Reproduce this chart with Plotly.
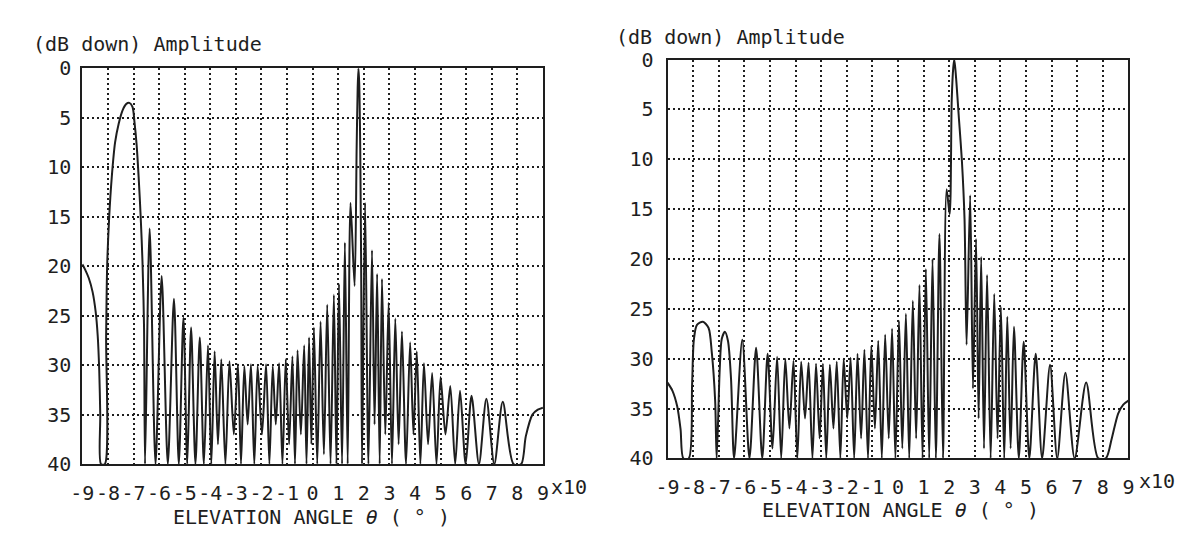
import plotly.graph_objects as go

# ---------------- data (theta in units of 10 degrees, level in dB down) ----------------
left_theta = [
    -9.00, -8.90, -8.75, -8.60, -8.48, -8.40, -8.34, -8.30, -8.27,
    -8.12, -8.07, -8.03, -7.95, -7.85, -7.72, -7.58, -7.42, -7.28, -7.16,
    -7.04, -6.96, -6.88, -6.80, -6.72, -6.65, -6.59, -6.55,
    -6.37, -6.14, -5.90, -5.66, -5.42, -5.23, -5.05, -4.90, -4.75, -4.58,
    -4.41, -4.25, -4.09, -3.96, -3.83, -3.70, -3.57, -3.41, -3.25, -3.08,
    -2.92, -2.80, -2.67, -2.54, -2.41, -2.28, -2.15, -1.98, -1.82, -1.69,
    -1.56, -1.44, -1.31, -1.18, -1.05, -0.92, -0.79, -0.69, -0.59, -0.46,
    -0.33, -0.24, -0.14, -0.05, 0.05, 0.18, 0.31, 0.44, 0.57, 0.70,
    0.83, 0.93, 1.03, 1.15, 1.26, 1.37, 1.48, 1.64,
    1.72, 1.76, 1.79, 1.82, 1.86, 1.90, 1.93,
    2.05, 2.18, 2.32, 2.42, 2.52, 2.62, 2.71, 2.84, 2.97, 3.10,
    3.23, 3.36, 3.49, 3.65, 3.81, 3.94, 4.07, 4.21, 4.35, 4.51,
    4.67, 4.84, 5.00, 5.19, 5.38, 5.57, 5.76, 5.98, 6.21, 6.50,
    6.79, 7.10, 7.43, 7.85,
    8.15, 8.33, 8.59, 8.80, 9.00,
]
left_db = [
    19.8, 20.3, 21.2, 22.6, 24.6, 27.0, 30.5, 35.0, 40,
    40, 27.0, 20.0, 15.0, 11.0, 7.5, 5.6, 4.2, 3.6, 3.5,
    3.9, 5.5, 7.7, 11.0, 15.0, 19.5, 26.0, 40,
    16.2, 40, 21.0, 40, 23.3, 40, 25.2, 40, 26.2, 40,
    27.2, 40, 28.0, 40, 28.6, 38, 29.4, 40, 29.6, 37,
    29.9, 40, 30.1, 36, 29.9, 40, 30.1, 37, 29.9, 40,
    30.1, 36, 29.8, 40, 29.4, 38, 29.1, 40, 28.5, 37,
    28.0, 40, 27.2, 38, 26.2, 40, 25.6, 39, 23.9, 40,
    22.9, 40, 21.8, 40, 17.6, 40, 13.6, 22.0,
    8.0, 2.0, 0.0, 1.5, 8.0, 22.0, 40,
    13.6, 40, 18.4, 36, 20.8, 40, 21.3, 37, 23.7, 40,
    25.3, 38, 26.6, 40, 27.7, 37, 28.6, 40, 29.8, 38,
    30.8, 40, 31.2, 37, 32.1, 40, 32.6, 40, 33.1, 40,
    33.4, 40, 33.7, 40,
    40, 37.2, 35.0, 34.5, 34.3,
]

right_theta = [
    -9.00, -8.81, -8.62, -8.49, -8.38,
    -8.17, -8.04, -7.97, -7.85, -7.62, -7.40, -7.27, -7.14, -7.08,
    -6.96, -6.88, -6.76, -6.64, -6.52, -6.40,
    -6.08, -5.80, -5.54, -5.30, -5.09, -4.90, -4.72, -4.56, -4.40, -4.24,
    -4.08, -3.93, -3.78, -3.63, -3.49, -3.34, -3.20, -3.06, -2.93, -2.80,
    -2.66, -2.52, -2.39, -2.25, -2.12, -1.98, -1.85, -1.71, -1.58, -1.44,
    -1.31, -1.17, -1.04, -0.90, -0.77, -0.63, -0.50, -0.36, -0.23, -0.10,
    0.04, 0.17, 0.31, 0.44, 0.58, 0.71, 0.84, 0.96, 1.09, 1.22,
    1.35, 1.48, 1.62, 1.76, 1.90, 2.02,
    2.10, 2.16, 2.20, 2.26, 2.37, 2.50, 2.60, 2.68,
    2.82, 2.93, 3.05, 3.15, 3.25, 3.36, 3.48, 3.62, 3.76, 3.89,
    4.02, 4.15, 4.27, 4.40, 4.53, 4.72, 4.91, 5.13, 5.38, 5.63,
    5.94, 6.22, 6.54, 6.90, 7.35, 7.82,
    8.12, 8.35, 8.60, 8.80, 9.00,
]
right_db = [
    32.4, 33.2, 34.8, 37.1, 40,
    40, 32.6, 28.1, 26.6, 26.3, 26.9, 29.4, 34.2, 40,
    31.0, 28.0, 27.3, 28.2, 32.0, 40,
    28.1, 40, 28.9, 40, 29.5, 39, 29.8, 40, 30.0, 37,
    30.2, 40, 30.3, 36, 30.4, 40, 30.5, 38, 30.5, 40,
    30.6, 37, 30.3, 40, 30.0, 36, 29.9, 40, 29.5, 38,
    29.1, 40, 28.7, 37, 28.2, 40, 27.6, 38, 27.0, 40,
    26.2, 39, 25.5, 40, 24.2, 38, 22.6, 40, 21.0, 40,
    20.0, 40, 17.5, 40, 13.0, 15.5,
    4.0, 0.8, 0.0, 1.5, 5.5, 10.3, 16.0, 28.6,
    13.6, 33, 18.0, 36, 19.8, 39, 21.6, 40, 23.5, 38,
    24.8, 40, 25.8, 39, 26.8, 40, 28.3, 40, 29.5, 40,
    30.6, 40, 31.4, 40, 32.4, 40,
    40, 38.0, 35.5, 34.6, 34.2,
]

x_tick_vals = [-9, -8, -7, -6, -5, -4, -3, -2, -1, 0, 1, 2, 3, 4, 5, 6, 7, 8, 9]
x_tick_text = ["-9", "-8", "-7", "-6", "-5", "-4", "-3", "-2", "-1", "0",
               "1", "2", "3", "4", "5", "6", "7", "8", "9"]
y_tick_vals = [0, 5, 10, 15, 20, 25, 30, 35, 40]
y_tick_text = ["0", "5", "10", "15", "20", "25", "30", "35", "40"]

y_title = "(dB down) Amplitude"
x_title = "ELEVATION ANGLE <i>θ</i> ( ° )"
x_unit = "x10"

assert len(left_theta) == len(left_db)
assert len(right_theta) == len(right_db)

# ---------------- layout helpers ----------------
W, H = 1185, 534
FONT = "DejaVu Sans Mono"
INK = "#1e1e1e"
FS = 20


def fx(px):
    return px / W


def fy(py):
    return 1 - py / H


fig = go.Figure()
line_style = dict(color=INK, width=2.0, shape="spline", smoothing=0.8)
fig.add_trace(go.Scatter(x=left_theta, y=left_db, mode="lines", line=line_style,
                         xaxis="x", yaxis="y", showlegend=False, hoverinfo="skip"))
fig.add_trace(go.Scatter(x=right_theta, y=right_db, mode="lines", line=line_style,
                         xaxis="x2", yaxis="y2", showlegend=False, hoverinfo="skip"))


def xaxis(domain, anchor, standoff):
    return dict(domain=domain, anchor=anchor, range=[-9, 9],
                tickmode="array", tickvals=x_tick_vals, ticktext=x_tick_text,
                tickangle=0,
                showgrid=True, gridcolor=INK, gridwidth=2, griddash="2px,3px",
                showline=True, mirror=True, linecolor=INK, linewidth=2,
                ticks="", zeroline=False, ticklabelstandoff=standoff,
                tickfont=dict(family=FONT, size=FS, color=INK), fixedrange=True)


def yaxis(domain, anchor, standoff):
    return dict(domain=domain, anchor=anchor, range=[40, 0],
                tickmode="array", tickvals=y_tick_vals, ticktext=y_tick_text,
                showgrid=True, gridcolor=INK, gridwidth=2, griddash="2px,3px",
                showline=True, mirror=True, linecolor=INK, linewidth=2,
                ticks="", zeroline=False, ticklabelstandoff=standoff,
                tickfont=dict(family=FONT, size=FS, color=INK), fixedrange=True)


L = dict(l=63.3, r=531.0, t=50.5, b=465.0)
R = dict(l=657.5, r=1125.5, t=41.5, b=459.0)

fig.update_layout(
    width=W, height=H, margin=dict(l=0, r=0, t=0, b=0),
    paper_bgcolor="white", plot_bgcolor="white",
    xaxis=xaxis([fx(L["l"]), fx(L["r"])], "y", 10),
    yaxis=yaxis([fy(L["b"]), fy(L["t"])], "x", 5),
    xaxis2=xaxis([fx(R["l"]), fx(R["r"])], "y2", 10),
    yaxis2=yaxis([fy(R["b"]), fy(R["t"])], "x2", 8),
)

ann_font = dict(family=FONT, size=FS, color=INK)
annotations = [
    dict(text=y_title, x=fx(129), y=fy(25.0), xanchor="center", yanchor="middle"),
    dict(text=y_title, x=fx(721), y=fy(18.0), xanchor="center", yanchor="middle"),
    dict(text=x_title, x=fx(296), y=fy(520), xanchor="center", yanchor="middle"),
    dict(text=x_title, x=fx(894), y=fy(513), xanchor="center", yanchor="middle"),
    dict(text=x_unit, x=fx(537), y=fy(489), xanchor="left", yanchor="middle"),
    dict(text=x_unit, x=fx(1134), y=fy(482.5), xanchor="left", yanchor="middle"),
]
for a in annotations:
    a.update(xref="paper", yref="paper", showarrow=False, font=ann_font)
fig.update_layout(annotations=annotations)

fig.write_html("out.html")
